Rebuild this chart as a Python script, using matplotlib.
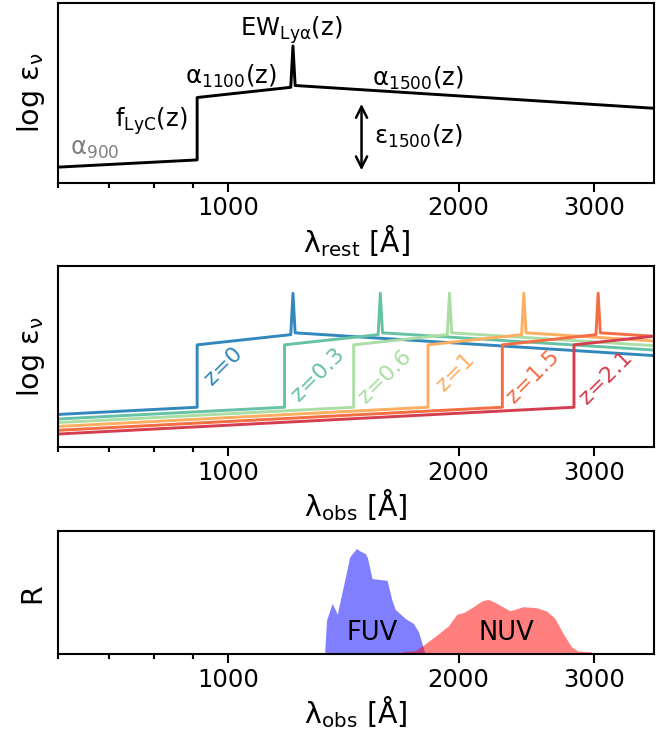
import numpy as np
import matplotlib
matplotlib.use('Agg')
import matplotlib.pyplot as plt
from matplotlib.ticker import FixedLocator, ScalarFormatter, NullFormatter

plt.rcParams['mathtext.default'] = 'regular'
plt.rcParams['font.size'] = 17.5
plt.rcParams['axes.labelsize'] = 20.5
plt.rcParams['axes.linewidth'] = 1.5
plt.rcParams['xtick.major.size'] = 6.3
plt.rcParams['xtick.minor.size'] = 3.3
plt.rcParams['xtick.major.width'] = 1.5
plt.rcParams['xtick.minor.width'] = 1.5

# rest-frame template (log eps, arbitrary units)
rest_wave = [150, 912, 912, 1208, 1216, 1224, 3600]
rest_logeps = [-0.52, 0.0, 1.04, 1.21, 1.90, 1.24, 0.86]

redshifts = [0, 0.3, 0.6, 1, 1.5, 2.1]
z_names = ['z=0', 'z=0.3', 'z=0.6', 'z=1', 'z=1.5', 'z=2.1']
z_colors = ['#3288bd', '#66c2a5', '#abdda4', '#fdae61', '#f46d43', '#d53e4f']

# GALEX responses (relative)
fuv_wave = [1337, 1345, 1368, 1389, 1442, 1471, 1489, 1511, 1521, 1542, 1613,
            1637, 1653, 1704, 1746, 1773, 1809]
fuv_resp = [0.0, 0.278, 0.414, 0.325, 0.79, 0.858, 0.836, 0.817, 0.781, 0.614,
            0.60, 0.438, 0.365, 0.29, 0.25, 0.182, 0.0]
nuv_wave = [1680, 1687, 1755, 1800, 1873, 1940, 1988, 2032, 2090, 2143, 2186,
            2230, 2333, 2428, 2527, 2604, 2669, 2736, 2805, 2861, 2978, 2985]
nuv_resp = [0.0, 0.021, 0.029, 0.075, 0.156, 0.232, 0.324, 0.34, 0.386, 0.432,
            0.446, 0.421, 0.353, 0.386, 0.378, 0.351, 0.292, 0.17, 0.062, 0.027,
            0.021, 0.0]

xticks = [1000, 2000, 3000]


def setup_xaxis(ax, label):
    ax.set_xscale('log')
    ax.set_xlim(600, 3600)
    ax.xaxis.set_major_locator(FixedLocator(xticks))
    ax.xaxis.set_major_formatter(ScalarFormatter())
    ax.xaxis.set_minor_formatter(NullFormatter())
    ax.set_xlabel(label, labelpad=2)
    ax.set_yticks([])


fig = plt.figure(figsize=(6.7, 7.3), dpi=100)
ax1 = fig.add_axes([0.0861, 0.7497, 0.8907, 0.2466])
ax2 = fig.add_axes([0.0861, 0.3873, 0.8907, 0.2484])
ax3 = fig.add_axes([0.0861, 0.1037, 0.8907, 0.1689])

# top: rest-frame model
ax1.plot(rest_wave, rest_logeps, color='k', lw=2.1)
ax1.set_ylim(-0.38, 2.62)
ax1.text(622, 0.19, r'$\alpha_{900}$', color='gray', ha='left', va='center')
ax1.text(886, 0.64, r'$f_{LyC}$(z)', ha='right', va='center')
ax1.text(1010, 1.39, r'$\alpha_{1100}$(z)', ha='center', va='center')
ax1.text(1209, 2.17, r'$EW_{Ly\alpha}$(z)', ha='center', va='center')
ax1.text(1769, 1.36, r'$\alpha_{1500}$(z)', ha='center', va='center')
ax1.text(1549, 0.39, r'$\epsilon_{1500}$(z)', ha='left', va='center')
ax1.annotate('', xy=(1494, -0.22), xytext=(1494, 0.98),
             arrowprops=dict(arrowstyle='<->', color='k', lw=1.8, mutation_scale=20))
setup_xaxis(ax1, r'$\lambda_{rest}$ [Å]')
ax1.set_ylabel(r'log $\epsilon_\nu$', labelpad=8)

# middle: redshifted copies
label_wave = [988, 1309, 1605, 1978, 2503, 3113]
label_y = [0.68, 0.54, 0.51, 0.59, 0.51, 0.49]
for i, z in enumerate(redshifts):
    obs = np.array(rest_wave) * (1 + z)
    ax2.plot(obs, rest_logeps, color=z_colors[i], lw=2.1)
    ax2.text(label_wave[i], label_y[i], z_names[i], color=z_colors[i],
             rotation=45, ha='center', va='center', fontsize=16)
ax2.set_ylim(-0.667, 2.355)
setup_xaxis(ax2, r'$\lambda_{obs}$ [Å]')
ax2.set_ylabel(r'log $\epsilon_\nu$', labelpad=8)

# bottom: filters
ax3.fill_between(fuv_wave, fuv_resp, color='blue', alpha=0.5, lw=0)
ax3.fill_between(nuv_wave, nuv_resp, color='red', alpha=0.5, lw=0)
ax3.text(1542, 0.17, 'FUV', ha='center', va='center', fontsize=18.5)
ax3.text(2310, 0.17, 'NUV', ha='center', va='center', fontsize=18.5)
ax3.set_ylim(0, 1)
setup_xaxis(ax3, r'$\lambda_{obs}$ [Å]')
ax3.set_ylabel('R', labelpad=8)

fig.savefig('out.png', dpi=100)
